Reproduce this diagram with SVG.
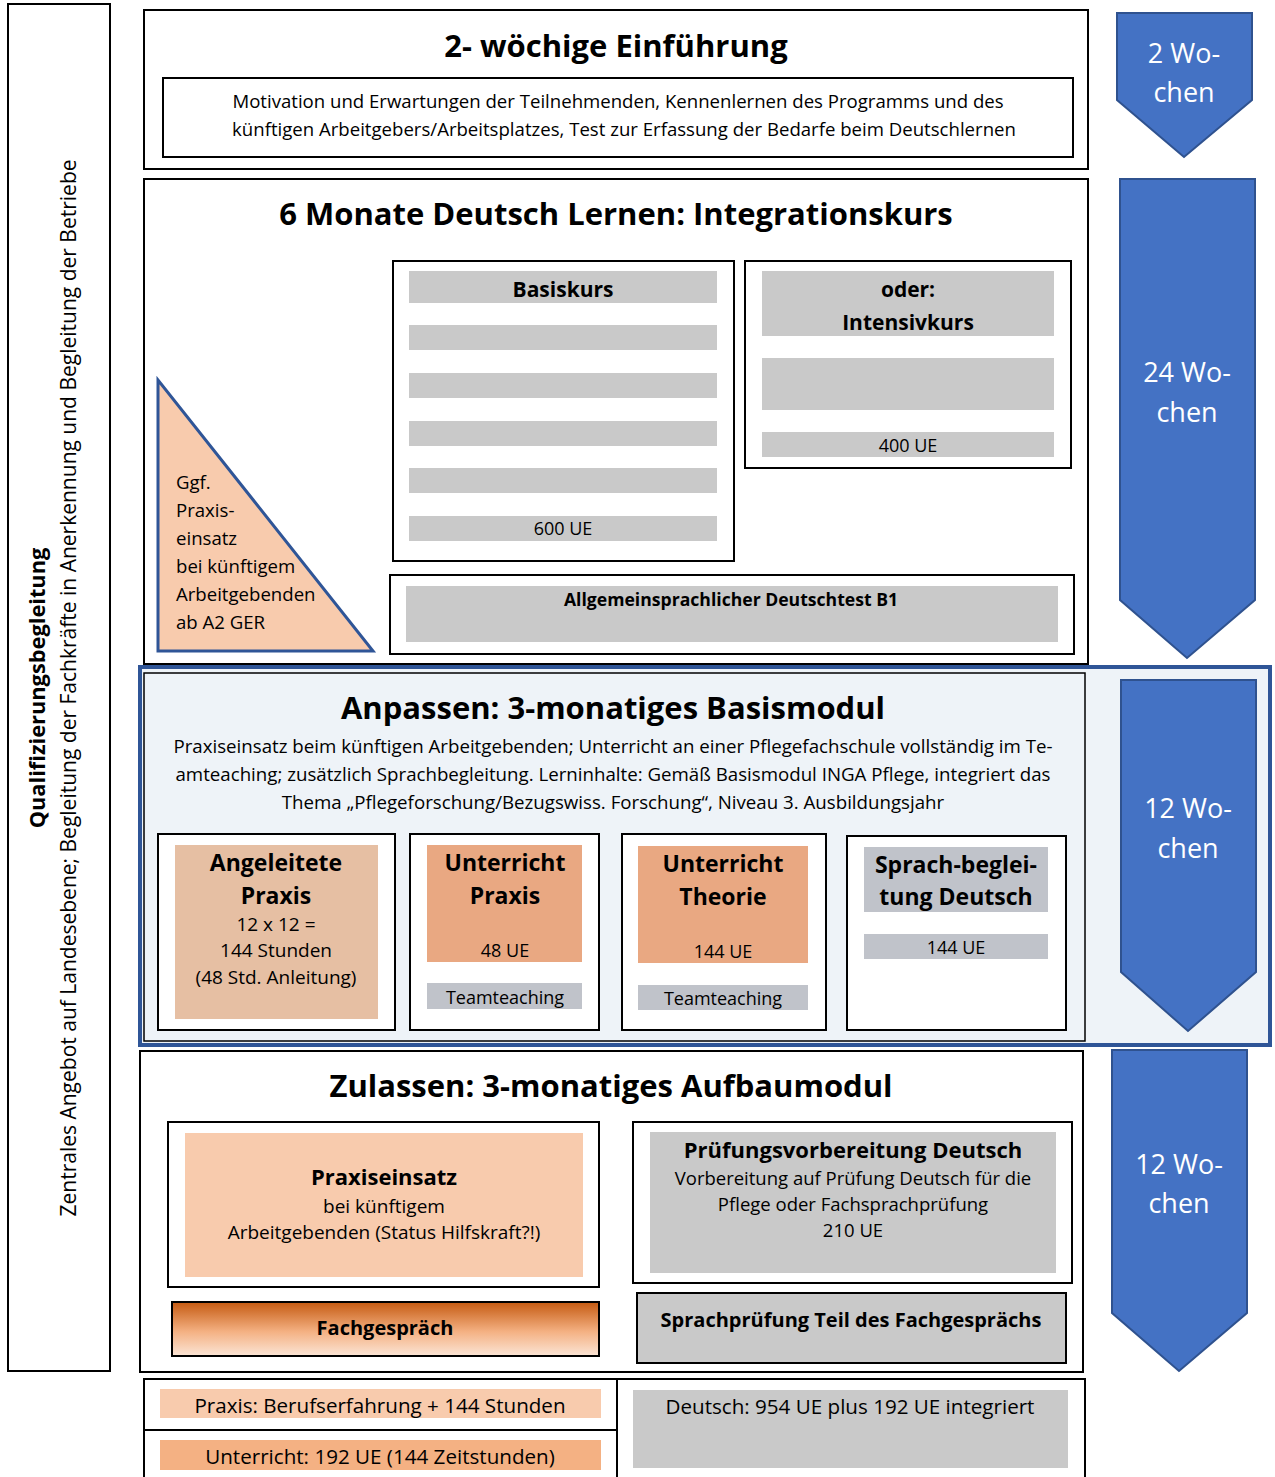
<svg xmlns="http://www.w3.org/2000/svg" width="1275" height="1477" viewBox="0 0 1275 1477">
<style>
text{font-family:"Open Sans","Liberation Sans",sans-serif;fill:#000}
.c{text-anchor:middle}
.b{font-weight:bold}
.t{font-size:31px;font-weight:bold}
.s{font-size:18px}
.d{font-size:18.6px}
.m{font-size:20.6px}
.h{font-size:23px;font-weight:bold}
.box{fill:#fff;stroke:#000;stroke-width:2}
.gray{fill:#c9c9c9}
.gb{fill:#c0c3ca}
.peach{fill:#f8cbad}
.org{fill:#e9a882}
.arr{fill:#4472c4;stroke:#2f528f;stroke-width:2}
.w{fill:#fff;font-size:27px}
</style>
<defs>
<linearGradient id="fg" x1="0" y1="0" x2="0" y2="1">
<stop offset="0" stop-color="#c55a11"/>
<stop offset="0.55" stop-color="#f4b183"/>
<stop offset="1" stop-color="#fbe5d6"/>
</linearGradient>
</defs>
<rect width="1275" height="1477" fill="#fff"/>

<g id="side">
<rect x="8" y="4" width="102" height="1367" class="box"/>
<text class="c b" font-size="21.8" transform="translate(45,688) rotate(-90)">Qualifizierungsbegleitung</text>
<text class="c" font-size="21" transform="translate(76,688) rotate(-90)">Zentrales Angebot auf Landesebene; Begleitung der Fachkräfte in Anerkennung und Begleitung der Betriebe</text>
</g>

<g id="einfuehrung">
<rect x="144" y="10" width="944" height="159" class="box"/>
<text x="616" y="57" class="c t">2- wöchige Einführung</text>
<rect x="163" y="78" width="910" height="79" class="box"/>
<text x="618" y="108" class="c d">Motivation und Erwartungen der Teilnehmenden, Kennenlernen des Programms und des</text>
<text x="624" y="136" class="c d">künftigen Arbeitgebers/Arbeitsplatzes, Test zur Erfassung der Bedarfe beim Deutschlernen</text>
</g>

<g id="integrationskurs">
<rect x="144" y="179" width="944" height="485" class="box"/>
<text x="616" y="225" class="c t">6 Monate Deutsch Lernen: Integrationskurs</text>
</g>

<g id="praxis-dreieck">
<polygon points="158,380 158,651 373,651" class="peach" stroke="#2f5597" stroke-width="3"/>
<text x="176" y="489" class="d">Ggf.</text>
<text x="176" y="517" class="d">Praxis-</text>
<text x="176" y="545" class="d">einsatz</text>
<text x="176" y="573" class="d">bei künftigem</text>
<text x="176" y="601" class="d">Arbeitgebenden</text>
<text x="176" y="629" class="d">ab A2 GER</text>
</g>

<g id="basiskurs">
<rect x="393" y="261" width="341" height="300" class="box"/>
<rect x="409" y="271" width="308" height="32" class="gray"/>
<rect x="409" y="325" width="308" height="25" class="gray"/>
<rect x="409" y="373" width="308" height="25" class="gray"/>
<rect x="409" y="421" width="308" height="25" class="gray"/>
<rect x="409" y="468" width="308" height="25" class="gray"/>
<rect x="409" y="516" width="308" height="25" class="gray"/>
<text x="563" y="297" class="c b" font-size="21">Basiskurs</text>
<text x="563" y="535" class="c s">600 UE</text>
</g>

<g id="intensivkurs">
<rect x="745" y="261" width="326" height="207" class="box"/>
<rect x="762" y="271" width="292" height="65" class="gray"/>
<rect x="762" y="358" width="292" height="52" class="gray"/>
<rect x="762" y="432" width="292" height="25" class="gray"/>
<text x="908" y="297" class="c b" font-size="21">oder:</text>
<text x="908" y="330" class="c b" font-size="21">Intensivkurs</text>
<text x="908" y="452" class="c s">400 UE</text>
</g>

<g id="deutschtest">
<rect x="390" y="575" width="684" height="79" class="box"/>
<rect x="406" y="586" width="652" height="56" class="gray"/>
<text x="731" y="606" class="c b" font-size="17.6">Allgemeinsprachlicher Deutschtest B1</text>
</g>

<g id="anpassen">
<rect x="140" y="667" width="1130" height="378" fill="#eef3f8" stroke="#2f5597" stroke-width="4"/>
<rect x="144" y="673" width="941" height="368" fill="none" stroke="#000" stroke-width="1.5"/>
<text x="613" y="719" class="c t">Anpassen: 3-monatiges Basismodul</text>
<text x="613" y="753" class="c" font-size="18.7">Praxiseinsatz beim künftigen Arbeitgebenden; Unterricht an einer Pflegefachschule vollständig im Te-</text>
<text x="613" y="781" class="c" font-size="18.7">amteaching; zusätzlich Sprachbegleitung. Lerninhalte: Gemäß Basismodul INGA Pflege, integriert das</text>
<text x="613" y="809" class="c" font-size="18.7">Thema „Pflegeforschung/Bezugswiss. Forschung“, Niveau 3. Ausbildungsjahr</text>
</g>

<g id="angeleitete-praxis">
<rect x="158" y="834" width="237" height="196" class="box" fill="none"/>
<rect x="175" y="845" width="203" height="174" fill="#e6bfa3"/>
<text x="276" y="871" class="c h">Angeleitete</text>
<text x="276" y="904" class="c h">Praxis</text>
<text x="276" y="931" class="c" font-size="19">12 x 12 =</text>
<text x="276" y="957" class="c" font-size="19">144 Stunden</text>
<text x="276" y="984" class="c" font-size="19">(48 Std. Anleitung)</text>
</g>

<g id="unterricht-praxis">
<rect x="410" y="834" width="189" height="196" class="box" fill="none"/>
<rect x="427" y="845" width="155" height="117" class="org"/>
<rect x="427" y="983" width="155" height="26" class="gb"/>
<text x="505" y="871" class="c h">Unterricht</text>
<text x="505" y="904" class="c h">Praxis</text>
<text x="505" y="957" class="c s">48 UE</text>
<text x="505" y="1004" class="c s">Teamteaching</text>
</g>

<g id="unterricht-theorie">
<rect x="622" y="834" width="204" height="196" class="box" fill="none"/>
<rect x="638" y="846" width="170" height="117" class="org"/>
<rect x="638" y="985" width="170" height="25" class="gb"/>
<text x="723" y="872" class="c h">Unterricht</text>
<text x="723" y="905" class="c h">Theorie</text>
<text x="723" y="958" class="c s">144 UE</text>
<text x="723" y="1005" class="c s">Teamteaching</text>
</g>

<g id="sprachbegleitung">
<rect x="847" y="836" width="219" height="194" class="box" fill="none"/>
<rect x="864" y="847" width="184" height="65" class="gb"/>
<rect x="864" y="934" width="184" height="25" class="gb"/>
<text x="956" y="873" class="c h">Sprach-beglei-</text>
<text x="956" y="905" class="c h">tung Deutsch</text>
<text x="956" y="954" class="c s">144 UE</text>
</g>

<g id="zulassen">
<rect x="140" y="1051" width="943" height="321" class="box"/>
<text x="611" y="1097" class="c t">Zulassen: 3-monatiges Aufbaumodul</text>
</g>

<g id="praxiseinsatz">
<rect x="168" y="1122" width="431" height="165" class="box"/>
<rect x="185" y="1133" width="398" height="144" class="peach"/>
<text x="384" y="1185" class="c b" font-size="22">Praxiseinsatz</text>
<text x="384" y="1213" class="c" font-size="19">bei künftigem</text>
<text x="384" y="1239" class="c" font-size="19">Arbeitgebenden (Status Hilfskraft?!)</text>
</g>

<g id="fachgespraech">
<rect x="172" y="1302" width="427" height="54" fill="url(#fg)" stroke="#000" stroke-width="2"/>
<text x="385" y="1335" class="c b" font-size="20">Fachgespräch</text>
</g>

<g id="pruefungsvorbereitung">
<rect x="633" y="1122" width="439" height="161" class="box"/>
<rect x="650" y="1132" width="406" height="141" class="gray"/>
<text x="853" y="1158" class="c b" font-size="22">Prüfungsvorbereitung Deutsch</text>
<text x="853" y="1185" class="c" font-size="18.5">Vorbereitung auf Prüfung Deutsch für die</text>
<text x="853" y="1211" class="c" font-size="18.5">Pflege oder Fachsprachprüfung</text>
<text x="853" y="1237" class="c" font-size="18.5">210 UE</text>
</g>

<g id="sprachpruefung">
<rect x="637" y="1293" width="429" height="70" class="gray" stroke="#000" stroke-width="2"/>
<text x="851" y="1327" class="c b" font-size="20">Sprachprüfung Teil des Fachgesprächs</text>
</g>

<g id="summe">
<rect x="144" y="1379" width="473" height="51" class="box"/>
<rect x="144" y="1430" width="473" height="50" class="box"/>
<rect x="617" y="1379" width="468" height="101" class="box"/>
<rect x="160" y="1389" width="441" height="29" class="peach"/>
<rect x="160" y="1440" width="441" height="30" fill="#f4b183"/>
<rect x="633" y="1390" width="435" height="78" class="gray"/>
<text x="380" y="1413" class="c m">Praxis: Berufserfahrung + 144 Stunden</text>
<text x="380" y="1464" class="c m">Unterricht: 192 UE (144 Zeitstunden)</text>
<text x="850" y="1414" class="c m">Deutsch: 954 UE plus 192 UE integriert</text>
</g>

<g id="arrows">
<g id="arrow-2wochen">
<polygon points="1117,13 1252,13 1252,100 1184,157 1117,100" class="arr"/>
<text x="1184" y="63" class="c w">2 Wo-</text>
<text x="1184" y="102" class="c w">chen</text>
</g>
<g id="arrow-24wochen">
<polygon points="1120,179 1255,179 1255,600 1187,658 1120,600" class="arr"/>
<text x="1187" y="382" class="c w">24 Wo-</text>
<text x="1187" y="422" class="c w">chen</text>
</g>
<g id="arrow-12wochen-a">
<polygon points="1121,680 1256,680 1256,972 1188,1031 1121,972" class="arr"/>
<text x="1188" y="818" class="c w">12 Wo-</text>
<text x="1188" y="858" class="c w">chen</text>
</g>
<g id="arrow-12wochen-b">
<polygon points="1112,1050 1247,1050 1247,1313 1179,1371 1112,1313" class="arr"/>
<text x="1179" y="1174" class="c w">12 Wo-</text>
<text x="1179" y="1213" class="c w">chen</text>
</g>
</g>
</svg>
